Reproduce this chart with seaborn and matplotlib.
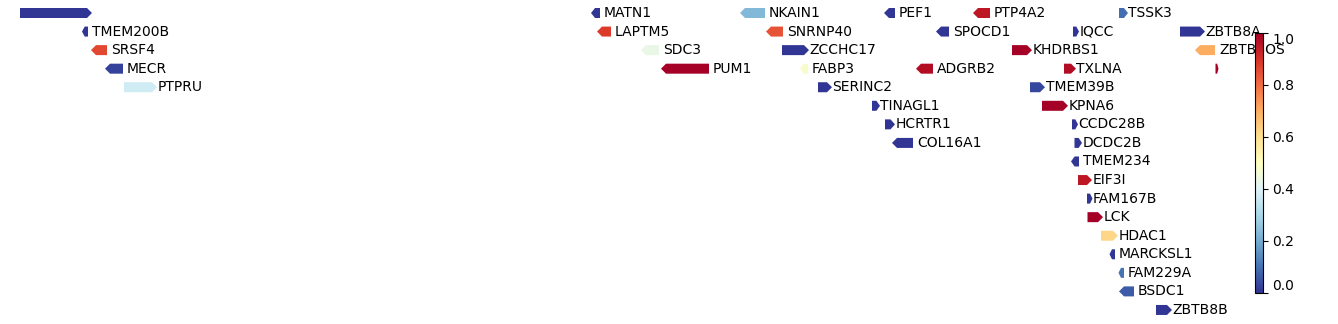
import numpy as np
import matplotlib
matplotlib.use("Agg")
import matplotlib.pyplot as plt
from matplotlib.patches import Polygon
import seaborn as sns

sns.set_theme(style="white")
plt.rcParams['font.family'] = ['DejaVu Sans']

# ---- data -------------------------------------------------------------
gene_names = ["", "MATN1", "NKAIN1", "PEF1", "PTP4A2", "TSSK3",
              "TMEM200B", "LAPTM5", "SNRNP40", "SPOCD1", "IQCC", "ZBTB8A",
              "SRSF4", "SDC3", "ZCCHC17", "KHDRBS1", "ZBTB8OS",
              "MECR", "PUM1", "FABP3", "ADGRB2", "TXLNA", "",
              "PTPRU", "SERINC2", "TMEM39B",
              "TINAGL1", "KPNA6",
              "HCRTR1", "CCDC28B",
              "COL16A1", "DCDC2B",
              "TMEM234", "EIF3I", "FAM167B", "LCK", "HDAC1",
              "MARCKSL1", "FAM229A", "BSDC1", "ZBTB8B"]
gene_starts = [20, 591, 740, 884, 973, 1119,
               82, 597, 766, 936, 1073, 1180,
               91, 641, 782, 1012, 1195,
               105, 661, 800, 916, 1064, 1215.5,
               124, 818, 1030,
               872, 1042,
               885, 1072,
               892, 1074.5,
               1071, 1078, 1087, 1087.5, 1101,
               1109.5, 1118.5, 1119, 1156]
gene_ends = [92, 600, 765, 895, 990, 1128,
             88, 611, 783, 949, 1079, 1205,
             107, 659, 809, 1032, 1215,
             123, 709, 808, 933, 1076, 1218.5,
             157, 832, 1045,
             880, 1068,
             895, 1078,
             913, 1082,
             1079, 1092, 1092.5, 1103, 1118,
             1115, 1124, 1134, 1172]
gene_strands = ["+", "-", "-", "-", "-", "+",
                "-", "-", "-", "-", "+", "+",
                "-", "-", "+", "+", "-",
                "-", "-", "-", "-", "+", "+",
                "+", "+", "+",
                "+", "+",
                "+", "+",
                "-", "+",
                "-", "+", "+", "+", "+",
                "-", "-", "-", "+"]
gene_rows = [0, 0, 0, 0, 0, 0,
             1, 1, 1, 1, 1, 1,
             2, 2, 2, 2, 2,
             3, 3, 3, 3, 3, 3,
             4, 4, 4,
             5, 5,
             6, 6,
             7, 7,
             8, 9, 10, 11, 12,
             13, 14, 15, 16]
gene_values = [0.0, 0.0, 0.23, 0.0, 0.95, 0.09,
               0.0, 0.88, 0.84, 0.0, 0.0, 0.0,
               0.86, 0.43, 0.0, 1.0, 0.70,
               0.02, 1.0, 0.48, 0.97, 0.97, 1.0,
               0.37, 0.0, 0.03,
               0.0, 1.0,
               0.0, 0.0,
               0.0, 0.0,
               0.0, 0.95, 0.0, 1.0, 0.62,
               0.0, 0.10, 0.06, 0.0]

# ---- figure -----------------------------------------------------------
W, H = 1338, 324
fig = plt.figure(figsize=(W / 100, H / 100), dpi=100)
ax = fig.add_axes([0, 0, 1, 1])
ax.set_xlim(0, W)
ax.set_ylim(H, 0)
ax.axis("off")

cmap = sns.color_palette("RdYlBu_r", as_cmap=True)
norm = matplotlib.colors.Normalize(0, 1)

row0, row_step, half_h, head_max = 13.0, 18.56, 5.0, 5.0

for name, s, e, strand, r, v in zip(gene_names, gene_starts, gene_ends,
                                    gene_strands, gene_rows, gene_values):
    y = row0 + r * row_step
    length = e - s
    head = min(head_max, 0.45 * length)
    if strand == "+":
        pts = [(s, y - half_h), (e - head, y - half_h), (e, y),
               (e - head, y + half_h), (s, y + half_h)]
        lx = e + 0.5
    else:
        pts = [(e, y - half_h), (s + head, y - half_h), (s, y),
               (s + head, y + half_h), (e, y + half_h)]
        lx = e + 4
    ax.add_patch(Polygon(pts, closed=True, facecolor=cmap(norm(v)),
                         edgecolor="none"))
    if name:
        ax.text(lx, y, name, ha="left", va="center", fontsize=10,
                color="black")

# ---- colorbar ---------------------------------------------------------
cax = fig.add_axes([1255 / W, (H - 292.5) / H, 8 / W, 259.5 / H])
sm = matplotlib.cm.ScalarMappable(norm=norm, cmap=cmap)
cb = fig.colorbar(sm, cax=cax, ticks=[0, 0.2, 0.4, 0.6, 0.8, 1.0])
cb.ax.tick_params(labelsize=10, length=3.5, width=0.8, direction="out",
                  right=True, colors="black", pad=3)
cb.outline.set_linewidth(0.8)
cb.outline.set_edgecolor("black")
labs = cb.ax.get_yticklabels()
labs[0].set_va("bottom")
labs[-1].set_va("top")

fig.savefig("out.png", dpi=100)
